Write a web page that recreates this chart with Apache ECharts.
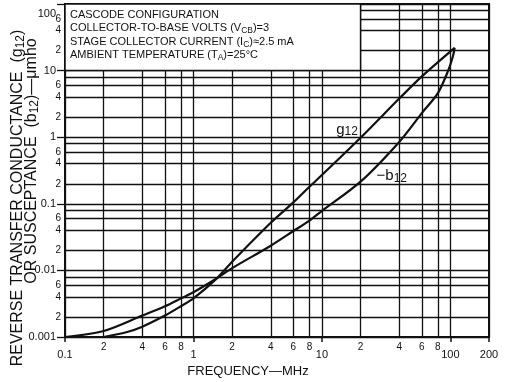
<!DOCTYPE html>
<html><head><meta charset="utf-8">
<script src="https://cdn.jsdelivr.net/npm/echarts@6/dist/echarts.min.js"></script>
<style>html,body{margin:0;padding:0;background:#fff}#c{width:513px;height:382px}</style>
</head><body><div id="c"></div>
<script>
// ---- data ----
const freqG = [0.2, 0.3, 0.4, 0.6, 0.8, 1, 1.5, 2, 4, 6, 8, 10, 20, 40, 60, 108];
const g12   = [0.001, 0.00118, 0.00143, 0.0021, 0.0029, 0.0038, 0.0074, 0.0135, 0.052, 0.105, 0.18, 0.27, 0.98, 3.8, 8.2, 22];
const freqB = [0.1, 0.2, 0.4, 0.6, 0.8, 1, 1.5, 2, 4, 6, 8, 10, 20, 40, 60, 80, 96, 105, 108];
const b12   = [0.001, 0.00123, 0.0021, 0.0029, 0.0038, 0.0047, 0.0075, 0.0108, 0.0235, 0.039, 0.056, 0.078, 0.215, 0.85, 2.3, 4.6, 9.9, 16.7, 22];

const xGridValues   = [0.1,0.2,0.4,0.6,0.8,1,2,4,6,8,10,20,40,60,80,100,200];
const xMinorTicks   = [0.2,0.4,0.6,0.8,2,4,6,8,20,40,60,80];
const xMinorLabels  = ['2','4','6','8','2','4','6','8','2','4','6','8'];
const xMajorTicks   = [0.1,1,10,100,200];
const xMajorLabels  = ['0.1','1','10','100','200'];

const yGridValues   = [0.001,0.002,0.004,0.006,0.008,0.01,0.02,0.04,0.06,0.08,0.1,0.2,0.4,0.6,0.8,1,2,4,6,8,10,20,40,60,80,100];
const yMinorTicks   = [0.002,0.004,0.006,0.02,0.04,0.06,0.2,0.4,0.6,2,4,6,20,40,60];
const yMinorLabels  = ['2','4','6','2','4','6','2','4','6','2','4','6','2','4','6'];
const yMajorTicks   = [0.001,0.01,0.1,1,10,100];
const yMajorLabels  = ['0.001','0.01','0.1','1','10','100'];

const boxLines = [
  'CASCODE CONFIGURATION',
  'COLLECTOR-TO-BASE VOLTS (V{s|CB})=3',
  'STAGE COLLECTOR CURRENT (I{s|C})\u22482.5 mA',
  'AMBIENT TEMPERATURE (T{s|A})=25\u00b0C'
];

function lookup(ticks, labels, wrapTop) {
  return function (v) {
    const lv = Math.log10(typeof v === 'object' ? v.value : v);
    for (let i = 0; i < ticks.length; i++) {
      if (Math.abs(Math.log10(ticks[i]) - lv) < 1e-4) {
        if (wrapTop && i === ticks.length - 1) return '{lo|' + labels[i] + '}';
        return labels[i];
      }
    }
    return '';
  };
}

const FONT = 'Liberation Sans, Arial, sans-serif';
const chart = echarts.init(document.getElementById('c'), null, {renderer: 'canvas'});
const black = '#111';

const option = {
  backgroundColor: '#fff',
  animation: false,
  grid: {left: 65, right: 24, top: 4, bottom: 45, show: true, borderColor: black, borderWidth: 2, backgroundColor: 'transparent'},
  xAxis: [
    {
      type: 'log', logBase: 10, min: 0.1, max: 200, gridIndex: 0,
      axisLine: {show: true, lineStyle: {color: black, width: 2}},
      axisTick: {show: false, customValues: xGridValues},
      splitLine: {show: true, lineStyle: {color: black, width: 1.3, type: 'solid'}},
      axisLabel: {customValues: xMinorTicks, formatter: lookup(xMinorTicks, xMinorLabels),
                  margin: 5, color: black, fontSize: 10, fontFamily: FONT}
    },
    {
      type: 'log', logBase: 10, min: 0.1, max: 200, gridIndex: 0, position: 'bottom',
      axisLine: {show: false},
      axisTick: {show: true, customValues: xMajorTicks, length: 5, lineStyle: {color: black, width: 1.5}},
      splitLine: {show: false},
      axisLabel: {customValues: xMajorTicks, formatter: lookup(xMajorTicks, xMajorLabels),
                  margin: 12, color: black, fontSize: 11, fontFamily: FONT}
    }
  ],
  yAxis: [
    {
      type: 'log', logBase: 10, min: 0.001, max: 100, gridIndex: 0,
      axisLine: {show: true, lineStyle: {color: black, width: 2}},
      axisTick: {show: false, customValues: yGridValues},
      splitLine: {show: true, lineStyle: {color: black, width: 1.3, type: 'solid'}},
      axisLabel: {customValues: yMinorTicks, formatter: lookup(yMinorTicks, yMinorLabels),
                  margin: 4, color: black, fontSize: 10, fontFamily: FONT}
    },
    {
      type: 'log', logBase: 10, min: 0.001, max: 100, gridIndex: 0, position: 'left',
      axisLine: {show: false},
      axisTick: {show: true, customValues: yMajorTicks, length: 8, lineStyle: {color: black, width: 1.3}},
      splitLine: {show: false},
      axisLabel: {customValues: yMajorTicks, formatter: lookup(yMajorTicks, yMajorLabels, true),
                  margin: 9, color: black, fontSize: 11, fontFamily: FONT,
                  rich: {lo: {fontSize: 11, fontFamily: FONT, color: black, padding: [20, 0, 0, 0]}}}
    }
  ],
  series: [
    {
      name: 'g12', type: 'line', xAxisIndex: 0, yAxisIndex: 0,
      data: freqG.map((f, i) => [f, g12[i]]),
      smooth: 0.3, showSymbol: false, symbol: 'none', z: 5,
      lineStyle: {color: black, width: 2.2},
      markArea: {
        silent: true,
        itemStyle: {color: '#fff', borderColor: black, borderWidth: 1.5},
        label: {show: false},
        data: [[{coord: [0.1, 10]}, {coord: [20, 100]}]]
      },
      markPoint: {
        silent: true, symbol: 'circle', symbolSize: 1,
        itemStyle: {color: 'rgba(0,0,0,0)'},
        label: {
          show: true, position: 'inside', color: black, fontFamily: FONT,
          formatter: '{a|g}{b|12}',
          rich: {a: {fontSize: 15, fontFamily: FONT, color: black},
                 b: {fontSize: 12, fontFamily: FONT, color: black, padding: [5, 0, 0, 0]}}
        },
        data: [{coord: [15.7, 1.3]}]
      }
    },
    {
      name: '-b12', type: 'line', xAxisIndex: 0, yAxisIndex: 0,
      data: freqB.map((f, i) => [f, b12[i]]),
      smooth: 0.3, showSymbol: false, symbol: 'none', z: 5,
      lineStyle: {color: black, width: 2.2},
      markPoint: {
        silent: true, symbol: 'circle', symbolSize: 1,
        itemStyle: {color: 'rgba(0,0,0,0)'},
        label: {
          show: true, position: 'inside', color: black, fontFamily: FONT,
          formatter: '{a|\u2212b}{b|12}',
          rich: {a: {fontSize: 15, fontFamily: FONT, color: black},
                 b: {fontSize: 12, fontFamily: FONT, color: black, padding: [5, 0, 0, 0]}}
        },
        data: [{coord: [35, 0.26]}]
      }
    }
  ],
  graphic: [
    {
      type: 'text', x: 70, y: 8, z: 100,
      style: {
        text: boxLines.join('\n'),
        fontSize: 11, fontFamily: FONT, fill: black, lineHeight: 13.5,
        align: 'left', verticalAlign: 'top',
        rich: {s: {fontSize: 8.5, fontFamily: FONT, fill: black, lineHeight: 13.5, padding: [5, 0, 0, 0]}}
      }
    },
    {
      type: 'text', x: 18, y: 198, rotation: Math.PI / 2,
      style: {
        text: '{n|REVERSE TRANSFER CONDUCTANCE  (g}{s|12}{n|)}',
        align: 'center', verticalAlign: 'middle',
        rich: {n: {fontSize: 16, fontFamily: FONT, fill: black},
               s: {fontSize: 12, fontFamily: FONT, fill: black, padding: [5, 0, 0, 0]}}
      }
    },
    {
      type: 'text', x: 32, y: 161, rotation: Math.PI / 2,
      style: {
        text: '{n|OR SUSCEPTANCE  (b}{s|12}{n|)\u2014\u03bcmho}',
        align: 'center', verticalAlign: 'middle',
        rich: {n: {fontSize: 16, fontFamily: FONT, fill: black},
               s: {fontSize: 12, fontFamily: FONT, fill: black, padding: [5, 0, 0, 0]}}
      }
    },
    {
      type: 'text', x: 248, y: 371,
      style: {text: 'FREQUENCY\u2014MHz', align: 'center', verticalAlign: 'middle',
              fontSize: 13, fontFamily: FONT, fill: black}
    }
  ]
};
chart.setOption(option);
</script>
</body></html>
